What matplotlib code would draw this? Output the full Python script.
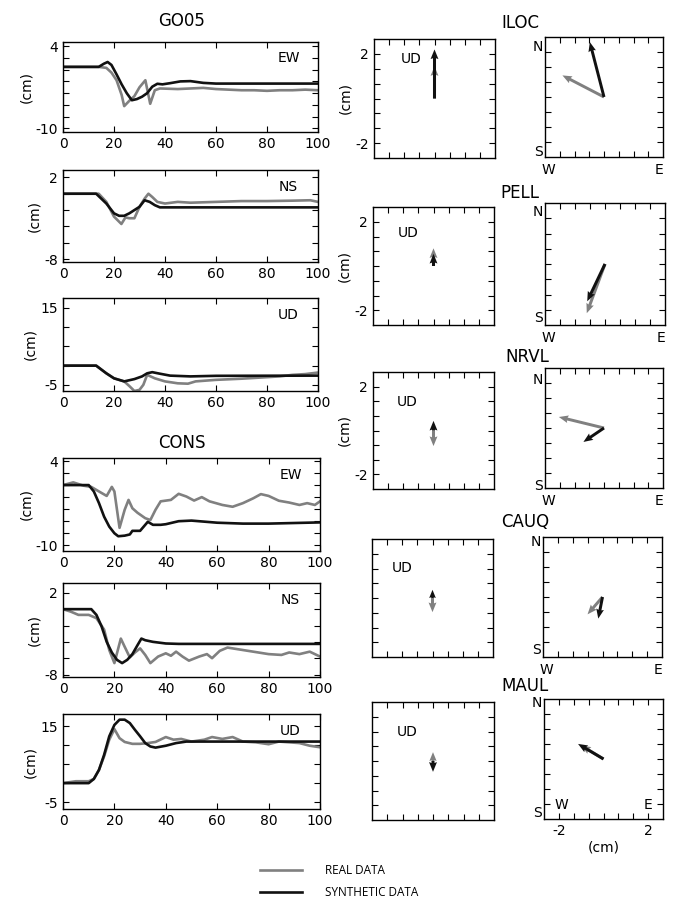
#Desplazamientos observados y sinteticos: series de tiempo y vectores
import matplotlib
matplotlib.use('Agg')
import matplotlib.pyplot as plt
import numpy as np

# --- series de tiempo (t en s, desplazamiento en cm) ---
# GO05
go05_ew_t_real = [0, 14, 17, 19, 21, 23, 24, 26, 28, 30, 32.3, 34.2, 36, 38, 45, 50, 55, 60, 65, 70, 75, 80, 85, 90, 95, 100]
go05_ew_real = [0.47, 0.47, 0.3, -0.5, -1.8, -4.3, -6.2, -5.3, -4.5, -3.0, -1.8, -5.8, -3.5, -3.2, -3.3, -3.2, -3.1, -3.3, -3.4, -3.5, -3.5, -3.6, -3.5, -3.5, -3.4, -3.5]
go05_ew_t_syn = [0, 14, 16, 17.5, 19, 21, 23, 25, 27, 29, 31, 33, 35, 37, 39, 42, 46, 50, 55, 60, 100]
go05_ew_syn = [0.47, 0.47, 1.0, 1.3, 0.8, -0.8, -2.5, -4.0, -5.2, -5.0, -4.6, -4.0, -2.9, -2.4, -2.5, -2.3, -2.0, -1.95, -2.25, -2.37, -2.37]

go05_ns_t_real = [0, 14, 17, 20, 22.9, 24.5, 26, 28, 30, 32, 33.5, 35, 37, 40, 45, 50, 60, 70, 80, 90, 97, 100]
go05_ns_real = [0.0, 0.0, -1.0, -2.8, -3.7, -2.9, -3.0, -3.0, -1.6, -0.6, 0.0, -0.4, -1.0, -1.2, -1.0, -1.1, -1.0, -0.9, -0.9, -0.85, -0.8, -1.0]
go05_ns_t_syn = [0, 13, 17, 20, 22, 24, 26, 28, 30, 32, 34, 36, 38, 100]
go05_ns_syn = [0.0, 0.0, -1.2, -2.4, -2.7, -2.7, -2.4, -2.0, -1.6, -0.8, -1.0, -1.4, -1.67, -1.67]

go05_ud_t_real = [0, 13, 17, 20, 24, 26, 28, 30, 31.5, 33, 36, 40, 45, 49, 52, 60, 70, 80, 85, 90, 95, 100]
go05_ud_real = [0.0, 0.0, -2.0, -3.3, -4.1, -5.3, -6.6, -6.3, -5.0, -2.4, -3.3, -4.1, -4.6, -4.7, -4.1, -3.7, -3.4, -3.0, -2.8, -2.4, -2.2, -1.8]
go05_ud_t_syn = [0, 13, 17, 20, 24, 28, 31, 33, 35, 38, 42, 50, 60, 100]
go05_ud_syn = [0.0, 0.0, -2.0, -3.3, -4.1, -3.5, -2.8, -2.0, -1.7, -2.1, -2.6, -2.8, -2.65, -2.6]

# CONS
cons_ew_t_real = [0, 4, 8, 11, 14, 17, 19, 20, 22, 24, 25.5, 27, 29, 32, 34, 36, 38, 42, 45, 48, 51, 54, 57, 62, 66, 70, 74, 77, 80, 84, 88, 92, 95, 98, 100]
cons_ew_real = [0.0, 0.45, -0.1, -0.3, -1.06, -1.8, -0.3, -1.06, -7.1, -4.1, -2.46, -3.85, -4.6, -5.5, -5.8, -4.1, -2.7, -2.46, -1.45, -1.9, -2.57, -2.0, -2.7, -3.3, -3.6, -3.0, -2.2, -1.5, -1.8, -2.6, -2.9, -3.3, -3.0, -3.3, -2.7]
cons_ew_t_syn = [0, 10, 12, 14, 16, 18, 20, 21.5, 24, 26, 27, 29, 30, 32, 33, 35, 38, 40, 45, 50, 60, 70, 80, 100]
cons_ew_syn = [0.0, 0.0, -1.06, -3.0, -5.25, -6.9, -8.0, -8.5, -8.4, -8.2, -7.6, -7.6, -7.6, -6.6, -6.1, -6.6, -6.6, -6.5, -6.0, -5.9, -6.25, -6.4, -6.4, -6.2]

cons_ns_t_real = [0, 3, 6, 10, 13, 16, 18, 20, 21, 22.5, 24, 26, 28, 30, 32, 34, 37, 40, 42, 44, 46.5, 49, 53, 56, 58, 61, 64, 68, 72, 76, 80, 85, 88, 92, 96, 100]
cons_ns_real = [0.0, -0.3, -0.7, -0.7, -1.1, -2.5, -5.0, -6.6, -5.4, -3.6, -4.6, -5.9, -5.3, -4.8, -5.6, -6.6, -5.8, -5.4, -5.7, -5.2, -5.8, -6.3, -5.8, -5.5, -6.0, -5.1, -4.7, -4.9, -5.1, -5.3, -5.5, -5.6, -5.3, -5.5, -5.2, -5.8]
cons_ns_t_syn = [0, 11, 13, 15, 17, 19, 21, 23, 25, 27, 29, 30.5, 32, 35, 40, 45, 100]
cons_ns_syn = [0.0, 0.0, -0.7, -2.1, -4.0, -5.3, -6.2, -6.6, -6.2, -5.5, -4.4, -3.6, -3.8, -4.0, -4.2, -4.25, -4.25]

cons_ud_t_real = [0, 5, 10, 12, 14, 16, 18, 20, 22, 24, 27, 30, 33, 36, 40, 43, 46, 50, 55, 58, 62, 66, 70, 75, 80, 84, 88, 92, 96, 100]
cons_ud_real = [0.0, 0.5, 0.5, 1.1, 3.5, 7.1, 11.5, 14.3, 11.9, 10.9, 10.4, 10.4, 10.6, 10.9, 12.2, 11.5, 11.7, 11.0, 11.5, 12.2, 11.7, 12.2, 11.0, 10.8, 10.3, 11.0, 10.8, 10.6, 9.9, 9.5]
cons_ud_t_syn = [0, 10, 12, 14, 16, 18, 20, 22, 24, 26, 28, 30, 32, 34, 36, 40, 44, 48, 55, 100]
cons_ud_syn = [0.0, 0.0, 1.1, 3.5, 7.5, 12.4, 15.4, 16.8, 16.8, 15.9, 14.1, 12.4, 10.6, 9.7, 9.4, 9.9, 10.6, 11.0, 11.0, 11.0]

# --- desplazamientos estaticos (cm) ---
estaciones = ['ILOC', 'PELL', 'NRVL', 'CAUQ', 'MAUL']
ud_real = [1.45, 0.8, -0.71, -0.64, 0.4]
ud_syn = [2.2, 0.55, 0.44, 0.37, -0.49]
e_real = [-1.88, -0.81, -2.04, -0.67, -1.0]
n_real = [0.96, -2.15, 0.49, -0.77, 0.6]
e_syn = [-0.64, -0.79, -0.93, -0.19, -1.14]
n_syn = [2.44, -1.63, -0.62, -0.96, 0.67]

gris = '#808080'
negro = '#111111'

plt.rcParams['xtick.direction'] = 'in'
plt.rcParams['ytick.direction'] = 'in'
plt.rcParams['xtick.top'] = True
plt.rcParams['ytick.right'] = True
plt.rcParams['xtick.major.size'] = 4
plt.rcParams['ytick.major.size'] = 4
plt.rcParams['axes.linewidth'] = 1.0
plt.rcParams['font.size'] = 10

W, H = 680, 898
fig = plt.figure(figsize=(W/100, H/100), dpi=100)

def caja(x0, y0, x1, y1):
    # caja en pixeles -> fraccion de figura
    return [x0/W, 1 - y1/H, (x1 - x0)/W, (y1 - y0)/H]

def serie(box, tr, vr, ts, vs, ylim, yticks, comp):
    ax = fig.add_axes(caja(*box))
    ax.plot(tr, vr, color=gris, lw=1.9)
    ax.plot(ts, vs, color=negro, lw=1.9)
    ax.set_xlim(0, 100)
    ax.set_ylim(*ylim)
    ax.set_xticks([0, 20, 40, 60, 80, 100])
    ax.set_yticks(yticks)
    ax.set_yticklabels([str(yticks[0])] + ['']*(len(yticks) - 2) + [str(yticks[-1])])
    ax.set_ylabel('(cm)', labelpad=2)
    ax.text(0.885, 0.82, comp, transform=ax.transAxes, ha='center', va='center', fontsize=10)
    return ax

a1 = serie((63, 42, 318, 132), go05_ew_t_real, go05_ew_real, go05_ew_t_syn, go05_ew_syn,
           (-10.6, 4.7), list(range(-10, 5, 2)), 'EW')
serie((63, 170, 318, 262), go05_ns_t_real, go05_ns_real, go05_ns_t_syn, go05_ns_syn,
      (-8.35, 2.9), list(range(-8, 3, 2)), 'NS')
serie((63, 298, 318, 391), go05_ud_t_real, go05_ud_real, go05_ud_t_syn, go05_ud_syn,
      (-6.6, 17.6), list(range(-5, 16, 5)), 'UD')
serie((63, 458, 320, 551), cons_ew_t_real, cons_ew_real, cons_ew_t_syn, cons_ew_syn,
      (-10.95, 4.5), list(range(-10, 5, 2)), 'EW')
serie((63, 583, 320, 677), cons_ns_t_real, cons_ns_real, cons_ns_t_syn, cons_ns_syn,
      (-8.3, 3.2), list(range(-8, 3, 2)), 'NS')
serie((63, 714, 320, 809), cons_ud_t_real, cons_ud_real, cons_ud_t_syn, cons_ud_syn,
      (-6.85, 18.3), list(range(-5, 16, 5)), 'UD')

fig.text(182/W, 1 - 21/H, 'GO05', ha='center', va='center', fontsize=12)
fig.text(182/W, 1 - 443/H, 'CONS', ha='center', va='center', fontsize=12)

# --- vectores: vertical (UD) y horizontal (mapa) ---
cajas_ud = [(374, 39, 495, 158), (373, 207, 494, 325), (373, 372, 494, 489), (372, 539, 493, 657), (372, 702, 494, 820)]
cajas_map = [(545, 37, 663, 157), (545, 203, 665, 325), (545, 368, 663, 488), (543, 537, 662, 657), (544, 699, 663, 819)]
pos_ud = [(0.31, 0.83), (0.29, 0.78), (0.28, 0.74), (0.25, 0.75), (0.29, 0.75)]
pos_tit = [(520, 23), (520, 193), (527, 357), (525, 522), (525, 686)]
pos_n = [0.92, 0.93, 0.9, 0.96, 0.97]
pos_s = [0.04, 0.06, 0.02, 0.06, 0.05]
ticks = np.arange(-3, 4) * 2/3
lim = 8/3
qk = dict(angles='xy', scale_units='xy', scale=1, width=0.025, headwidth=2.6, headlength=3.2, headaxislength=2.9)

for i in range(len(estaciones)):
    ax = fig.add_axes(caja(*cajas_ud[i]))
    ax.quiver([0], [0], [0], [ud_real[i]], color=gris, **qk)
    ax.quiver([0], [0], [0], [ud_syn[i]], color=negro, **qk)
    ax.set_xlim(-lim, lim)
    ax.set_ylim(-lim, lim)
    ax.set_xticks(ticks)
    ax.set_yticks(ticks)
    ax.set_xticklabels([])
    if i < 3:
        ax.set_yticklabels(['-2', '', '', '', '', '', '2'])
        ax.set_ylabel('(cm)', labelpad=2)
    else:
        ax.set_yticklabels([])
    ax.text(pos_ud[i][0], pos_ud[i][1], 'UD', transform=ax.transAxes, ha='center', va='center', fontsize=10)

    ax = fig.add_axes(caja(*cajas_map[i]))
    ax.quiver([0], [0], [e_real[i]], [n_real[i]], color=gris, **qk)
    ax.quiver([0], [0], [e_syn[i]], [n_syn[i]], color=negro, **qk)
    ax.set_xlim(-lim, lim)
    ax.set_ylim(-lim, lim)
    ax.set_xticks(ticks)
    ax.set_yticks(ticks)
    ax.set_yticklabels([])
    ax.text(-0.02, pos_n[i], 'N', transform=ax.transAxes, ha='right', va='center', fontsize=10)
    ax.text(-0.02, pos_s[i], 'S', transform=ax.transAxes, ha='right', va='center', fontsize=10)
    if i == len(estaciones) - 1:
        ax.set_xticklabels(['-2', '', '', '', '', '', '2'])
        ax.set_xlabel('(cm)', labelpad=2)
        ax.text(0.15, 0.12, 'W', transform=ax.transAxes, ha='center', va='center', fontsize=10)
        ax.text(0.87, 0.12, 'E', transform=ax.transAxes, ha='center', va='center', fontsize=10)
    else:
        ax.set_xticklabels([])
        ax.text(0.03, -0.11, 'W', transform=ax.transAxes, ha='center', va='center', fontsize=10)
        ax.text(0.97, -0.11, 'E', transform=ax.transAxes, ha='center', va='center', fontsize=10)

    fig.text(pos_tit[i][0]/W, 1 - pos_tit[i][1]/H, estaciones[i], ha='center', va='center', fontsize=12)

# leyenda
lineas = a1.get_lines()
fig.legend(lineas, ['REAL DATA', 'SYNTHETIC DATA'], loc='upper left', bbox_to_anchor=(254/W, 1 - 858/H),
           frameon=False, handlelength=3.6, handletextpad=1.9, labelspacing=0.75,
           borderpad=0, prop={'family': 'Open Sans', 'size': 8.5})

plt.savefig('out.png', dpi=100)
